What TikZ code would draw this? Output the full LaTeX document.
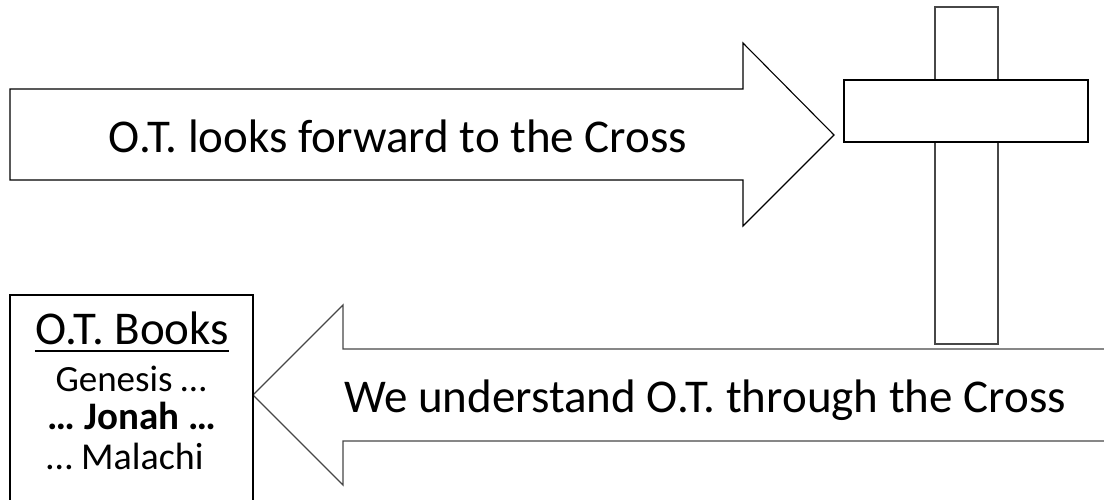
\documentclass[tikz,border=0pt]{standalone}
\usepackage{fontspec}
\setmainfont{Carlito}
\begin{document}
\begin{tikzpicture}[x=1pt,y=-1pt,
  shp/.style={draw=black, line width=1.1pt, fill=white, line join=miter},
  shpg/.style={draw=black!72, line width=1.3pt, fill=white, line join=miter},
  big/.style={inner sep=0pt, anchor=base, font=\fontsize{47}{56}\selectfont},
  small/.style={inner sep=0pt, anchor=base}]
\useasboundingbox (0,0) rectangle (1104,499);
% top arrow
\draw[shp] (10,89) -- (743,89) -- (743,43) -- (834,135) -- (743,226) -- (743,180) -- (10,180) -- cycle;
\node[big] (fwd) at (398,152) {O.T. looks forward to the Cross};
% cross
\draw[shpg] (935,7) rectangle (998,344);
\draw[shp] (844,80) rectangle (1088,142);
% bottom arrow
\draw[shpg] (1110,349) -- (343,349) -- (343,305) -- (253,395) -- (343,485) -- (343,441) -- (1110,441);
\node[big] (back) at (705,412) {We understand O.T. through the Cross};
% books box
\draw[shp, fill=none] (10,505) -- (10,295) -- (253,295) -- (253,505);
\node[inner sep=0pt, anchor=base, font=\fontsize{47}{56}\selectfont] (books) at (132,344) {O.T. Books};
\draw[line width=2pt] ([yshift=-7pt]books.base west) -- ([yshift=-7pt]books.base east);
\node[small, font=\fontsize{37}{44}\selectfont] (gen) at (131,391) {Genesis …};
\node[small, font=\fontsize{39}{46}\selectfont\bfseries] (jon) at (132,429) {… Jonah …};
\node[small, font=\fontsize{38}{45}\selectfont] (mal) at (125,469) {… Malachi};
\end{tikzpicture}
\end{document}
